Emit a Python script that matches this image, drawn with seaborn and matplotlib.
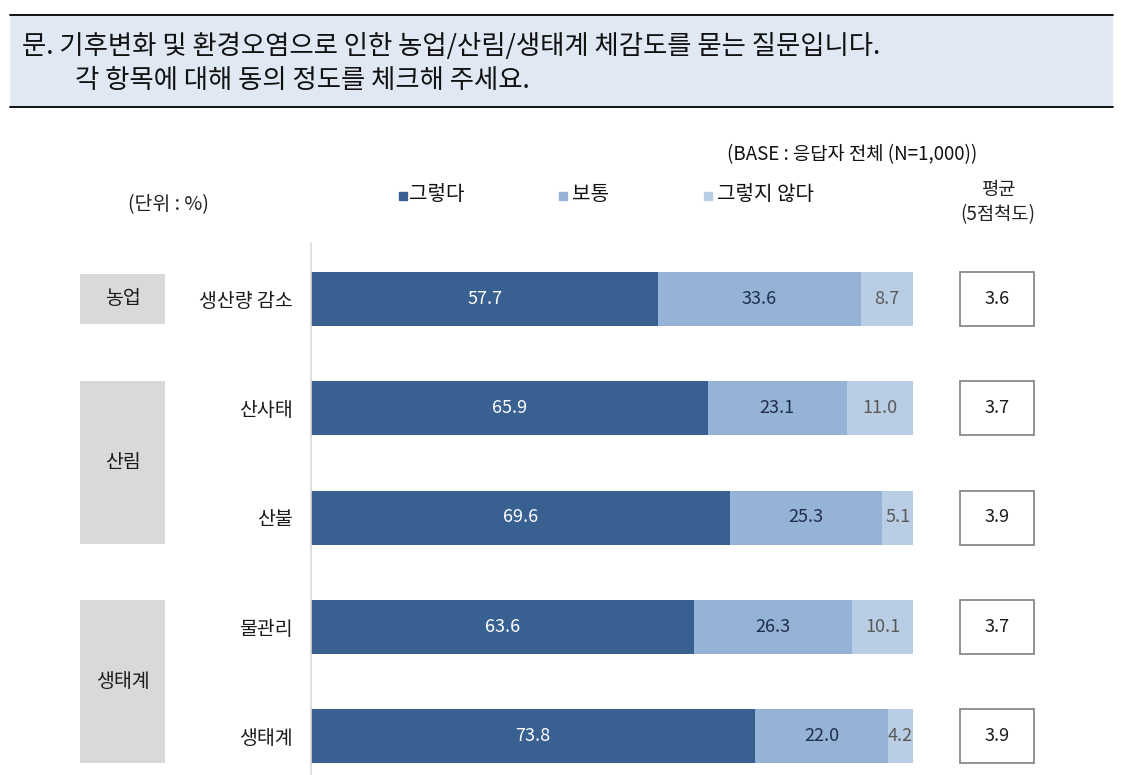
import matplotlib
matplotlib.use("Agg")
import matplotlib.pyplot as plt
from matplotlib.lines import Line2D
from matplotlib.patches import Rectangle
import seaborn as sns
import pandas as pd

# ---- data ----
categories = ["생산량 감소", "산사태", "산불", "물관리", "생태계"]
yes_vals = [57.7, 65.9, 69.6, 63.6, 73.8]      # 그렇다
mid_vals = [33.6, 23.1, 25.3, 26.3, 22.0]      # 보통
no_vals = [8.7, 11.0, 5.1, 10.1, 4.2]          # 그렇지 않다
averages = ["3.6", "3.7", "3.9", "3.7", "3.9"]
groups = [("농업", 0, 0), ("산림", 1, 2), ("생태계", 3, 4)]
series_names = ["그렇다", "보통", "그렇지 않다"]

title_lines = ["문. 기후변화 및 환경오염으로 인한 농업/산림/생태계 체감도를 묻는 질문입니다.",
               "각 항목에 대해 동의 정도를 체크해 주세요."]

C_DARK = "#386090"
C_MID = "#95B3D7"
C_LIGHT = "#B9CDE5"

sns.set_theme(style="white")
plt.rcParams["font.family"] = ["Noto Sans CJK KR", "DejaVu Sans"]

W, H = 1130, 775
fig = plt.figure(figsize=(W / 100, H / 100), dpi=100)

def fx(px):
    return px / W

def fy(py):
    return 1 - py / H

df = pd.DataFrame({"cat": categories, "yes": yes_vals, "mid": mid_vals, "no": no_vals})
df["c_mid"] = df["yes"] + df["mid"]
df["c_all"] = df["c_mid"] + df["no"]

ytop_px, ybot_px = 243, 775
row0, spacing = 299, 109.25
ylim_top = -(row0 - ytop_px) / spacing
ylim_bot = (ybot_px - row0) / spacing
bar_h = 54 / spacing

ax_h = (ybot_px - ytop_px) / H
ax = fig.add_axes([fx(311), 0, fx(913) - fx(311), ax_h])

sns.barplot(data=df, x="c_all", y="cat", orient="h", color=C_LIGHT, saturation=1,
            width=bar_h, ax=ax, linewidth=0)
sns.barplot(data=df, x="c_mid", y="cat", orient="h", color=C_MID, saturation=1,
            width=bar_h, ax=ax, linewidth=0)
sns.barplot(data=df, x="yes", y="cat", orient="h", color=C_DARK, saturation=1,
            width=bar_h, ax=ax, linewidth=0)

ax.set_xlim(0, 100)
ax.set_ylim(ylim_bot, ylim_top)
ax.set_xlabel("")
ax.set_ylabel("")
ax.set_xticks([])
for s in ["top", "right", "bottom"]:
    ax.spines[s].set_visible(False)
ax.spines["left"].set_color("#D9D9D9")
ax.spines["left"].set_linewidth(1.2)
ax.tick_params(axis="y", length=0, pad=13, labelsize=14, labelcolor="#1a1a1a")

for i, r in df.iterrows():
    ax.text(r["yes"] / 2, i, f"{r['yes']:.1f}", ha="center", va="center",
            color="white", fontsize=13)
    ax.text(r["yes"] + r["mid"] / 2, i, f"{r['mid']:.1f}", ha="center", va="center",
            color="#1F2D4D", fontsize=13)
    ax.text(r["c_mid"] + r["no"] / 2, i, f"{r['no']:.1f}", ha="center", va="center",
            color="#595959", fontsize=13)

# ---- average boxes ----
ax2 = fig.add_axes([fx(960), 0, fx(1034) - fx(960), ax_h])
bars = ax2.barh(range(len(averages)), [1] * len(averages), height=bar_h,
                color="white", edgecolor="#7F7F7F", linewidth=1.2)
for b in bars:
    b.set_clip_on(False)
for i, a in enumerate(averages):
    ax2.text(0.5, i, a, ha="center", va="center", fontsize=13, color="#1a1a1a")
ax2.set_xlim(0, 1)
ax2.set_ylim(ylim_bot, ylim_top)
ax2.axis("off")

# ---- group boxes ----
ax3 = fig.add_axes([fx(80), 0, fx(165) - fx(80), ax_h])
for name, a, b in groups:
    c = (a + b) / 2
    h = (b - a) + 0.46 + (0.03 if b > a else 0)
    ax3.barh([c], [1], height=h, color="#D9D9D9", linewidth=0)
    ax3.text(0.5, c, name, ha="center", va="center", fontsize=14, color="#1a1a1a")
ax3.set_xlim(0, 1)
ax3.set_ylim(ylim_bot, ylim_top)
ax3.axis("off")

# ---- header box ----
fig.add_artist(Rectangle((fx(10), fy(107)), fx(1113) - fx(10), fy(15) - fy(107),
                         transform=fig.transFigure, facecolor="#DFE8F3", edgecolor="none"))
for py in (15, 107):
    fig.add_artist(Line2D([fx(10), fx(1113)], [fy(py), fy(py)], transform=fig.transFigure,
                          color="black", linewidth=1.3))
fig.text(fx(22), fy(46), title_lines[0], ha="left", va="center", fontsize=19, color="#111111")
fig.text(fx(75), fy(81), title_lines[1], ha="left", va="center", fontsize=19, color="#111111")

# ---- annotations ----
fig.text(fx(727), fy(155), "(BASE : 응답자 전체 (N=1,000))", ha="left", va="center",
         fontsize=13.5, color="#111111")
fig.text(fx(128), fy(205), "(단위 : %)", ha="left", va="center", fontsize=14, color="#222222")
fig.text(fx(998), fy(190), "평균", ha="center", va="center", fontsize=13.5, color="#222222")
fig.text(fx(998), fy(215), "(5점척도)", ha="center", va="center", fontsize=13.5, color="#222222")

# ---- legend ----
leg_x = [(403, 409), (563, 572), (708, 717)]
for (mx, tx), name, col in zip(leg_x, series_names, [C_DARK, C_MID, C_LIGHT]):
    fig.add_artist(Line2D([fx(mx)], [fy(196)], transform=fig.transFigure, marker="s",
                          markersize=6, color=col, linestyle="none"))
    fig.text(fx(tx), fy(194), name, ha="left", va="center", fontsize=14.5, color="#111111")

fig.savefig("out.png", dpi=100, facecolor="white")
